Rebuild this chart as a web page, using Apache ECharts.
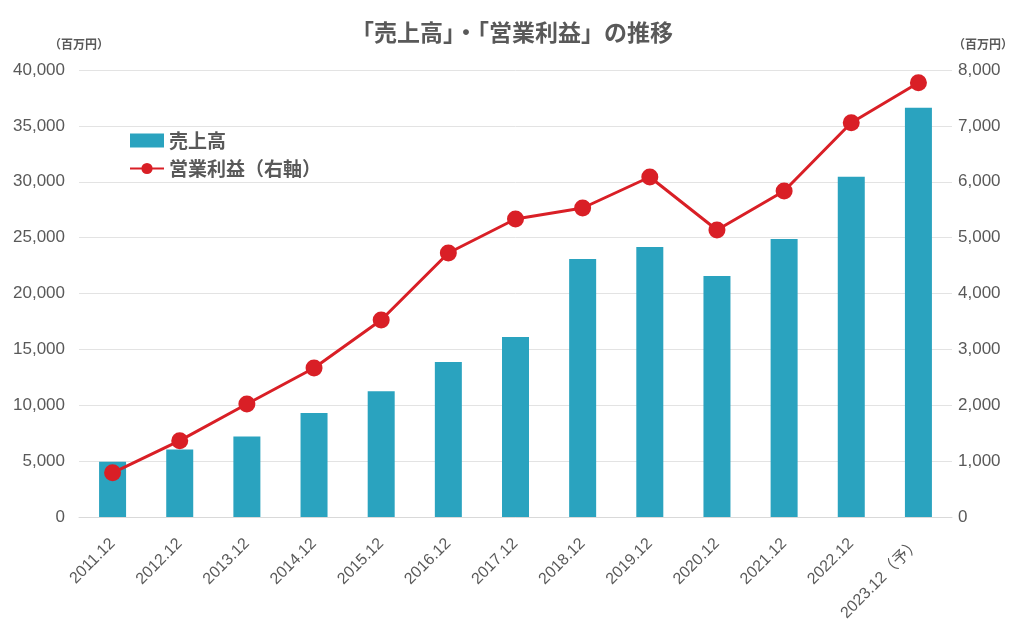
<!DOCTYPE html>
<html><head><meta charset="utf-8">
<script src="https://cdn.jsdelivr.net/npm/echarts@6/dist/echarts.min.js"></script>
<style>html,body{margin:0;padding:0;background:#fff}#c{width:1024px;height:630px}</style>
</head><body><div id="c"></div>
<script>
var categories = ['2011.12','2012.12','2013.12','2014.12','2015.12','2016.12','2017.12','2018.12','2019.12','2020.12','2021.12','2022.12','2023.12（予）'];
var sales = [4950, 6050, 7200, 9300, 11250, 13870, 16100, 23090, 24160, 21570, 24880, 30450, 36630];
var operatingProfit = [790, 1366, 2022, 2667, 3526, 4725, 5333, 5530, 6085, 5136, 5834, 7057, 7773];
var titleText = '「売上高」・「営業利益」の推移';
var seriesNames = ['売上高', '営業利益（右軸）'];
var unitLabel = '（百万円）';

var font = '"Noto Sans CJK JP", "Noto Sans", sans-serif';
var numFont = '"Liberation Sans", "Noto Sans CJK JP", sans-serif';
var gray = '#595959';
var chart = echarts.init(document.getElementById('c'));
chart.setOption({
  backgroundColor: '#fff',
  animation: false,
  title: { text: titleText, left: 'center', top: 16,
    textStyle: { fontFamily: font, fontSize: 23, fontWeight: 'bold', color: gray } },
  legend: {
    left: 124, top: 126, orient: 'vertical', itemGap: 9,
    itemWidth: 34, itemHeight: 14,
    textStyle: { fontFamily: font, fontSize: 19, fontWeight: 'bold', color: gray },
    data: [
      { name: seriesNames[0], icon: 'rect' },
      { name: seriesNames[1] }
    ]
  },
  grid: { left: 79, right: 72, top: 70, bottom: 113 },
  xAxis: {
    type: 'category', data: categories,
    axisLine: { lineStyle: { color: '#d9d9d9' } },
    axisTick: { show: false },
    axisLabel: { rotate: 45, interval: 0, fontFamily: numFont, fontSize: 16, color: gray, margin: 24 }
  },
  yAxis: [
    { type: 'value', min: 0, max: 40000, interval: 5000,
      name: unitLabel, nameGap: 20, nameLocation: 'end',
      nameTextStyle: { fontFamily: font, fontSize: 12, fontWeight: 'bold', color: gray, align: 'center', padding: [0, 0, 0, 0] },
      axisLine: { show: false }, axisTick: { show: false },
      splitLine: { lineStyle: { color: '#e3e3e3' } },
      axisLabel: { fontFamily: numFont, fontSize: 17, color: gray, margin: 14,
        formatter: function (v) { return v.toLocaleString('en-US'); } } },
    { type: 'value', min: 0, max: 8000, interval: 1000,
      name: unitLabel, nameGap: 20, nameLocation: 'end',
      nameTextStyle: { fontFamily: font, fontSize: 12, fontWeight: 'bold', color: gray, align: 'center', padding: [0, 0, 0, 62] },
      axisLine: { show: false }, axisTick: { show: false },
      splitLine: { show: false },
      axisLabel: { fontFamily: numFont, fontSize: 17, color: gray, margin: 6,
        formatter: function (v) { return v.toLocaleString('en-US'); } } }
  ],
  series: [
    { name: seriesNames[0], type: 'bar', data: sales, barWidth: 27,
      itemStyle: { color: '#2aa3bf' } },
    { name: seriesNames[1], type: 'line', yAxisIndex: 1, data: operatingProfit,
      symbol: 'circle', symbolSize: 17,
      lineStyle: { color: '#d91f26', width: 3 },
      itemStyle: { color: '#d91f26' } }
  ]
});
</script></body></html>
